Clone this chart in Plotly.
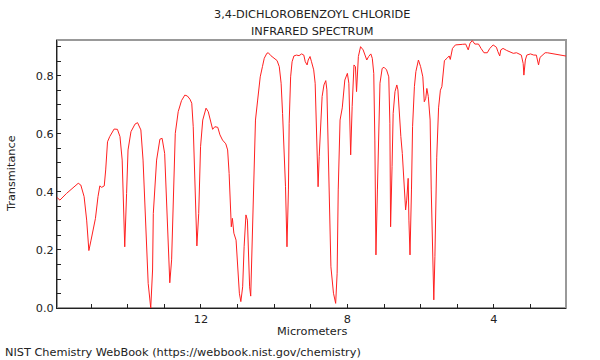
import plotly.graph_objects as go

wavelength_um = [
    15.94, 15.85, 15.67, 15.49, 15.35, 15.28, 15.19, 15.12, 15.06, 15.00, 14.94, 14.88, 14.81, 14.76, 14.71,
    14.64, 14.60, 14.55, 14.49, 14.37, 14.28, 14.21, 14.15, 14.11, 14.08, 14.03, 13.99, 13.91, 13.80, 13.73,
    13.64, 13.58, 13.51, 13.44, 13.37, 13.32, 13.30, 13.21, 13.12, 13.06, 12.99, 12.94, 12.89, 12.85, 12.80,
    12.76, 12.70, 12.62, 12.53, 12.44, 12.37, 12.30, 12.25, 12.21, 12.16, 12.11, 12.06, 12.01, 11.95, 11.86,
    11.80, 11.73, 11.68, 11.62, 11.54, 11.48, 11.41, 11.32, 11.27, 11.23, 11.19, 11.17, 11.14, 11.10, 11.04,
    11.00, 10.95, 10.91, 10.86, 10.82, 10.77, 10.73, 10.71, 10.67, 10.64, 10.61, 10.57, 10.54, 10.51, 10.45,
    10.42, 10.38, 10.32, 10.27, 10.20, 10.16, 10.09, 10.00, 9.92, 9.86, 9.81, 9.77, 9.72, 9.69, 9.65,
    9.61, 9.59, 9.55, 9.51, 9.46, 9.39, 9.32, 9.25, 9.19, 9.15, 9.10, 9.07, 9.02, 8.98, 8.92,
    8.88, 8.84, 8.80, 8.77, 8.73, 8.69, 8.64, 8.59, 8.56, 8.53, 8.49, 8.45, 8.38, 8.32, 8.28,
    8.25, 8.20, 8.14, 8.07, 8.00, 7.96, 7.91, 7.87, 7.82, 7.78, 7.75, 7.70, 7.64, 7.57, 7.47,
    7.42, 7.36, 7.32, 7.28, 7.25, 7.22, 7.18, 7.14, 7.11, 7.05, 7.00, 6.93, 6.87, 6.84, 6.82,
    6.78, 6.75, 6.70, 6.65, 6.62, 6.58, 6.54, 6.50, 6.45, 6.41, 6.38, 6.34, 6.32, 6.29, 6.25,
    6.22, 6.17, 6.13, 6.06, 6.00, 5.94, 5.90, 5.86, 5.83, 5.79, 5.74, 5.71, 5.67, 5.64, 5.61,
    5.56, 5.51, 5.46, 5.42, 5.39, 5.35, 5.28, 5.22, 5.19, 5.13, 5.05, 4.95, 4.86, 4.77, 4.70,
    4.65, 4.59, 4.52, 4.42, 4.35, 4.27, 4.18, 4.11, 4.02, 3.93, 3.89, 3.84, 3.81, 3.75, 3.65,
    3.56, 3.47, 3.38, 3.31, 3.25, 3.20, 3.18, 3.14, 3.10, 3.00, 2.91, 2.84, 2.81, 2.78, 2.74,
    2.68, 2.60, 2.54, 2.45, 2.31, 2.16, 2.07, 2.00,
]

transmittance = [
    0.382, 0.372, 0.395, 0.416, 0.430, 0.424, 0.384, 0.303, 0.198, 0.234, 0.275, 0.309, 0.384, 0.421, 0.416,
    0.421, 0.476, 0.573, 0.591, 0.617, 0.616, 0.591, 0.510, 0.338, 0.211, 0.395, 0.545, 0.608, 0.634, 0.639,
    0.614, 0.510, 0.303, 0.085, 0.000, 0.131, 0.326, 0.510, 0.582, 0.585, 0.533, 0.349, 0.166, 0.087, 0.166,
    0.349, 0.602, 0.677, 0.715, 0.734, 0.731, 0.720, 0.706, 0.625, 0.384, 0.214, 0.326, 0.556, 0.648, 0.689,
    0.677, 0.637, 0.616, 0.625, 0.623, 0.597, 0.579, 0.566, 0.545, 0.464, 0.315, 0.280, 0.309, 0.258, 0.234,
    0.142, 0.051, 0.022, 0.073, 0.211, 0.321, 0.303, 0.211, 0.073, 0.041, 0.189, 0.372, 0.522, 0.648, 0.717,
    0.757, 0.797, 0.832, 0.861, 0.878, 0.880, 0.870, 0.861, 0.853, 0.832, 0.775, 0.671, 0.545, 0.418, 0.211,
    0.407, 0.637, 0.797, 0.849, 0.869, 0.872, 0.870, 0.876, 0.872, 0.849, 0.838, 0.855, 0.867, 0.849, 0.821,
    0.775, 0.602, 0.418, 0.522, 0.648, 0.729, 0.769, 0.784, 0.752, 0.579, 0.326, 0.142, 0.051, 0.016, 0.120,
    0.407, 0.648, 0.690, 0.786, 0.809, 0.775, 0.528, 0.694, 0.838, 0.832, 0.746, 0.867, 0.901, 0.890, 0.855,
    0.867, 0.876, 0.861, 0.809, 0.579, 0.183, 0.407, 0.637, 0.775, 0.826, 0.830, 0.821, 0.797, 0.637, 0.280,
    0.487, 0.671, 0.746, 0.769, 0.752, 0.648, 0.591, 0.533, 0.418, 0.338, 0.372, 0.447, 0.303, 0.183, 0.407,
    0.625, 0.763, 0.815, 0.855, 0.832, 0.797, 0.711, 0.723, 0.757, 0.729, 0.648, 0.407, 0.120, 0.028, 0.177,
    0.520, 0.690, 0.751, 0.763, 0.809, 0.853, 0.861, 0.869, 0.857, 0.895, 0.907, 0.907, 0.909, 0.910, 0.890,
    0.913, 0.922, 0.910, 0.910, 0.895, 0.880, 0.880, 0.895, 0.907, 0.899, 0.884, 0.869, 0.890, 0.895, 0.888,
    0.884, 0.878, 0.880, 0.876, 0.872, 0.843, 0.803, 0.855, 0.872, 0.876, 0.872, 0.872, 0.853, 0.838, 0.864,
    0.872, 0.880, 0.880, 0.878, 0.876, 0.874, 0.872, 0.868,
]

x_tick_vals = [2, 3, 4, 5, 6, 7, 8, 9, 10, 11, 12, 13, 14, 15]
x_tick_text = ["", "", "4", "", "", "", "8", "", "", "", "12", "", "", ""]
y_tick_vals = [round(0.05 * i, 2) for i in range(19)]
y_tick_text = ["0.0", "", "", "", "0.2", "", "", "", "0.4", "", "", "", "0.6", "", "", "", "0.8", "", ""]

title_lines = ["3,4-DICHLOROBENZOYL CHLORIDE", "INFRARED SPECTRUM"]
x_title = "Micrometers"
y_title = "Transmitance"
footer = "NIST Chemistry WebBook (https://webbook.nist.gov/chemistry)"

FONT = "DejaVu Sans"
DARK = "#222222"
FS = 11.3

# plot area in pixels (for placing text outside the axes)
L, R, T, B = 57, 566, 40, 308
PW, PH = R - L, B - T


def px_x(p):
    return (p - L) / PW


def px_y(p):
    return (B - p) / PH


fig = go.Figure()
fig.add_trace(go.Scatter(
    x=wavelength_um, y=transmittance, mode="lines",
    line=dict(color="#ff2020", width=1), showlegend=False, hoverinfo="skip",
))

annotations = [
    dict(text=title_lines[0], x=0.5, y=px_y(14), xanchor="center", yanchor="middle"),
    dict(text=title_lines[1], x=0.5, y=px_y(31), xanchor="center", yanchor="middle"),
    dict(text=x_title, x=0.5, y=px_y(331), xanchor="center", yanchor="middle"),
    dict(text=y_title, x=px_x(11), y=0.5, xanchor="center", yanchor="middle", textangle=-90),
    dict(text=footer, x=px_x(3), y=px_y(352), xanchor="left", yanchor="middle"),
]
for a in annotations:
    a.update(xref="paper", yref="paper", showarrow=False,
             font=dict(family=FONT, size=FS, color=DARK))

fig.update_layout(
    width=600, height=360,
    margin=dict(l=L, r=600 - R, t=T, b=360 - B, autoexpand=False),
    paper_bgcolor="white", plot_bgcolor="white",
    font=dict(family=FONT, size=FS, color=DARK),
    xaxis=dict(
        range=[15.93, 2.03], tickmode="array", tickvals=x_tick_vals, ticktext=x_tick_text,
        ticks="inside", ticklen=4, tickcolor=DARK, showgrid=False, zeroline=False,
        showline=True, linecolor=DARK, linewidth=1,
        tickfont=dict(size=FS), automargin=False,
    ),
    yaxis=dict(
        range=[0, 0.924], tickmode="array", tickvals=y_tick_vals, ticktext=y_tick_text,
        ticks="inside", ticklen=4, tickcolor=DARK, showgrid=False, zeroline=False,
        showline=True, linecolor=DARK, linewidth=1,
        tickfont=dict(size=FS), automargin=False,
    ),
    shapes=[dict(type="rect", xref="paper", yref="paper", x0=0, x1=1, y0=0, y1=1,
                 line=dict(color="#999999", width=2), layer="below")],
    annotations=annotations,
)

fig.write_html("out.html", config={"displayModeBar": False},
               post_script="document.body.style.margin='0';")
